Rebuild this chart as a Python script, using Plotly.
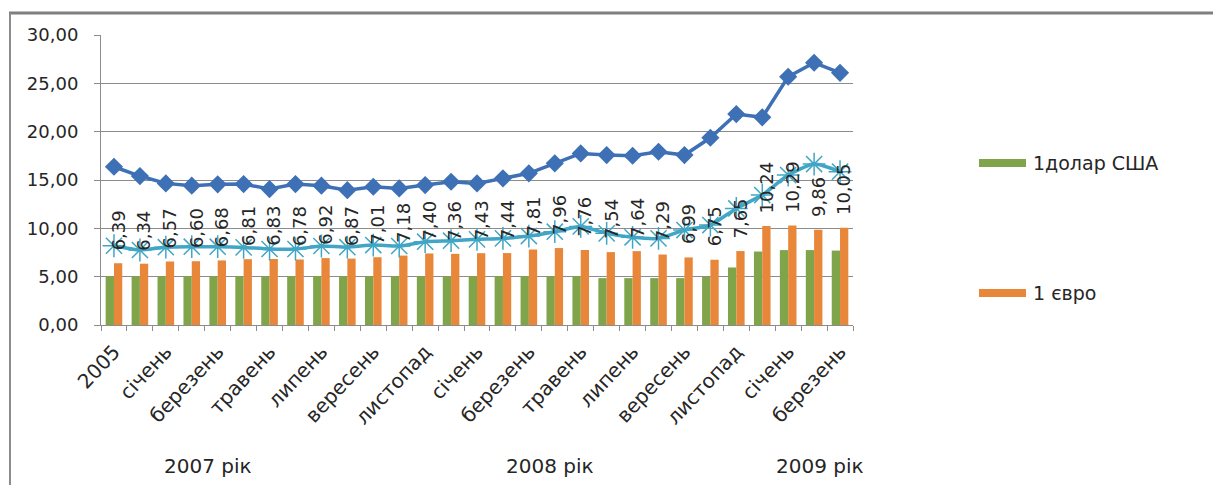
import plotly.graph_objects as go

# Monthly categories: 2005, 2006, then 2007, 2008 and Q1 2009
categories = [
    "2005", "2006",
    "січень", "лютий", "березень", "квітень", "травень", "червень",
    "липень", "серпень", "вересень", "жовтень", "листопад", "грудень",
    "січень", "лютий", "березень", "квітень", "травень", "червень",
    "липень", "серпень", "вересень", "жовтень", "листопад", "грудень",
    "січень", "лютий", "березень",
]

usd = [5.05, 5.05, 5.05, 5.05, 5.05, 5.05, 5.05, 5.05, 5.05, 5.05,
       5.05, 5.05, 5.05, 5.05, 5.05, 5.05, 5.05, 5.05, 5.05, 4.85,
       4.85, 4.85, 4.85, 5.00, 5.95, 7.60, 7.75, 7.75, 7.70]

eur = [6.39, 6.34, 6.57, 6.60, 6.68, 6.81, 6.83, 6.78, 6.92, 6.87,
       7.01, 7.18, 7.40, 7.36, 7.43, 7.44, 7.81, 7.96, 7.76, 7.54,
       7.64, 7.29, 6.99, 6.75, 7.65, 10.24, 10.29, 9.86, 10.05]

diamond_series = [16.37, 15.41, 14.65, 14.41, 14.55, 14.58, 14.06, 14.58, 14.41, 13.95,
                  14.30, 14.13, 14.48, 14.82, 14.65, 15.17, 15.69, 16.72, 17.75, 17.58,
                  17.51, 17.92, 17.58, 19.37, 21.82, 21.48, 25.68, 27.13, 26.09]

star_series = [8.20, 7.76, 8.05, 8.10, 8.10, 8.03, 7.86, 7.86, 8.17, 8.05,
               8.27, 8.17, 8.62, 8.72, 8.86, 8.96, 9.20, 9.65, 10.20, 9.48,
               9.07, 8.96, 9.82, 10.34, 12.06, 13.44, 15.51, 16.65, 15.86]

series_names = ["1долар США", "1 євро"]
year_labels = ["2007 рік", "2008 рік", "2009 рік"]

GREEN = "#80A44A"
ORANGE = "#E8873A"
BLUE = "#3E70B6"
CYAN = "#41A6C6"
CYAN_MARK = "#92CFE4"
GRID = "#8C8C8C"
TEXT = "#262626"
FONT = "DejaVu Sans"

W, H = 1213, 485
ML, MR, MT, MB = 101, 360, 35, 160
PW, PH = W - ML - MR, H - MT - MB


def px_x(px):
    return (px - ML) / PW


def px_y(py):
    return (H - MB - py) / PH


x = list(range(len(categories)))
bargap = 0.36
bar_w = (1 - bargap) / 2

fig = go.Figure()
fig.add_trace(go.Bar(x=x, y=usd, name=series_names[0], marker_color=GREEN,
                     marker_line_width=0, showlegend=False))
fig.add_trace(go.Bar(x=x, y=eur, name=series_names[1], marker_color=ORANGE,
                     marker_line_width=0, showlegend=False))
fig.add_trace(go.Scatter(x=x, y=diamond_series, mode="lines+markers",
                         line=dict(color=BLUE, width=3.5),
                         marker=dict(symbol="diamond", size=14, color=BLUE),
                         showlegend=False))
fig.add_trace(go.Scatter(x=x, y=star_series, mode="lines+markers",
                         line=dict(color=CYAN, width=3.5, shape="spline", smoothing=0.6),
                         marker=dict(symbol="asterisk-open", size=19,
                                     line=dict(color=CYAN_MARK, width=1.5)),
                         showlegend=False))

annotations = []
# value labels above the euro bars
for i, v in enumerate(eur):
    annotations.append(dict(
        x=i + bar_w / 2, y=v, xref="x", yref="y",
        text=f"{v:.2f}".replace(".", ","), textangle=-90,
        showarrow=False, yanchor="bottom", xanchor="center", yshift=11,
        font=dict(family=FONT, size=18, color=TEXT)))

# year captions under the axis
for label, cx in zip(year_labels, [208, 550, 820]):
    annotations.append(dict(
        x=px_x(cx), y=px_y(466), xref="paper", yref="paper", text=label,
        showarrow=False, xanchor="center", yanchor="middle",
        font=dict(family=FONT, size=20, color=TEXT)))

# legend entries
shapes = []
for name, color, cy in [(series_names[0], GREEN, 163), (series_names[1], ORANGE, 293)]:
    shapes.append(dict(type="rect", xref="paper", yref="paper",
                       x0=px_x(979), x1=px_x(1026), y0=px_y(cy + 4), y1=px_y(cy - 4),
                       fillcolor=color, line_width=0))
    annotations.append(dict(
        x=px_x(1031), y=px_y(cy), xref="paper", yref="paper", text=name,
        showarrow=False, xanchor="left", yanchor="middle",
        font=dict(family=FONT, size=19, color=TEXT)))

# chart frame
shapes.append(dict(type="line", xref="paper", yref="paper",
                   x0=px_x(9), x1=px_x(W), y0=px_y(13), y1=px_y(13),
                   line=dict(color="#7F7F7F", width=3)))
shapes.append(dict(type="line", xref="paper", yref="paper",
                   x0=px_x(10), x1=px_x(10), y0=px_y(13), y1=px_y(H),
                   line=dict(color="#8C8C8C", width=2)))

fig.update_layout(
    width=W, height=H,
    margin=dict(l=ML, r=MR, t=MT, b=MB),
    paper_bgcolor="white", plot_bgcolor="white",
    barmode="group", bargap=bargap, bargroupgap=0,
    separators=",.",
    font=dict(family=FONT, color=TEXT),
    annotations=annotations, shapes=shapes,
    showlegend=False,
)
fig.update_xaxes(
    range=[-0.5, len(categories) - 0.5],
    tickmode="array", tickvals=x[::2], ticktext=categories[::2],
    tickangle=-47, ticks="", showgrid=False,
    showline=True, linecolor=GRID, linewidth=1,
    tickfont=dict(family=FONT, size=20, color=TEXT),
    ticklabelstandoff=6,
    minor=dict(tickmode="array", tickvals=[i - 0.5 for i in range(len(categories) + 1)],
               ticks="outside", ticklen=5, tickcolor=GRID, showgrid=False),
    zeroline=False,
)
fig.update_yaxes(
    range=[0, 30], tickmode="linear", tick0=0, dtick=5, tickformat=".2f",
    showgrid=True, gridcolor=GRID, gridwidth=1,
    showline=True, linecolor=GRID, linewidth=1,
    ticks="outside", ticklen=6, tickcolor=GRID,
    ticklabelstandoff=12,
    tickfont=dict(family=FONT, size=18, color=TEXT),
    zeroline=False,
)

fig.write_html("out.html")
